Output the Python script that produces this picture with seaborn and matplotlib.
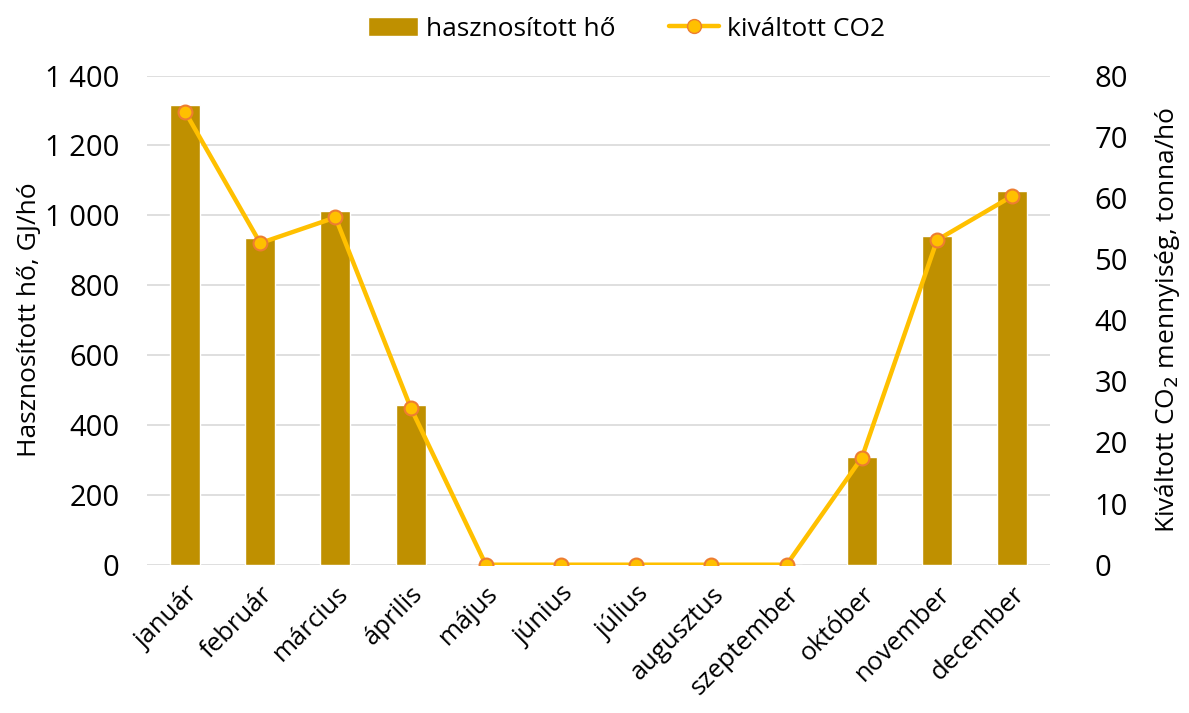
import pandas as pd
import numpy as np
import seaborn as sns
import matplotlib.pyplot as plt
from matplotlib.ticker import FuncFormatter
from matplotlib.lines import Line2D
from matplotlib.patches import Patch

# Data
months = ['január', 'február', 'március', 'április', 'május', 'június', 'július',
          'augusztus', 'szeptember', 'október', 'november', 'december']
heat = [1315, 935, 1013, 456, 0, 0, 0, 0, 0, 309, 940, 1069]      # GJ/hó
co2 = [74.1, 52.6, 56.8, 25.7, 0, 0, 0, 0, 0, 17.5, 53.1, 60.3]    # tonna/hó

df = pd.DataFrame({'honap': months, 'ho': heat, 'co2': co2})

sns.set_theme(style='white')
plt.rcParams['font.family'] = ['Open Sans', 'DejaVu Sans']
plt.rcParams['text.color'] = 'black'
plt.rcParams['axes.labelcolor'] = 'black'
plt.rcParams['xtick.color'] = 'black'
plt.rcParams['ytick.color'] = 'black'

bar_color = '#BF9000'
line_color = '#FFC000'
edge_color = '#ED7D31'
grid_color = '#D9D9D9'

fig = plt.figure(figsize=(11.89, 7.13), dpi=100)
ax = fig.add_axes([0.124, 0.208, 0.759, 0.686])

sns.barplot(data=df, x='honap', y='ho', color=bar_color, width=0.4,
            saturation=1, ax=ax)
ax.set_ylim(0, 1400)
ax.set_yticks(np.arange(0, 1401, 200))
ax.yaxis.set_major_formatter(FuncFormatter(lambda v, p: '{:,.0f}'.format(v).replace(',', ' ')))
ax.grid(axis='y', color=grid_color, linewidth=1.2)
ax.set_axisbelow(True)
ax.set_xlabel('')
ax.set_ylabel('Hasznosított hő, GJ/hó', fontsize=19, labelpad=2)
ax.tick_params(axis='y', labelsize=21, length=0, pad=20)
ax.tick_params(axis='x', labelsize=18.5, length=0, pad=12)
plt.setp(ax.get_xticklabels(), rotation=45, ha='right', rotation_mode='anchor')
for s in ax.spines.values():
    s.set_visible(False)

ax2 = ax.twinx()
sns.lineplot(data=df, x='honap', y='co2', color=line_color, linewidth=3.2,
             marker='o', markersize=10, markerfacecolor=line_color,
             markeredgecolor=edge_color, markeredgewidth=1.5, ax=ax2)
ax2.set_ylim(0, 80)
ax2.set_yticks(np.arange(0, 81, 10))
ax2.set_ylabel('Kiváltott CO$_2$ mennyiség, tonna/hó', fontsize=19, labelpad=18)
ax2.tick_params(axis='y', labelsize=21, length=0, pad=32)
ax2.set_xlabel('')
for s in ax2.spines.values():
    s.set_visible(False)
ax.set_xlim(-0.5, len(months) - 0.5)

handles = [Patch(facecolor=bar_color, label='hasznosított hő'),
           Line2D([0], [0], color=line_color, linewidth=3.2, marker='o', markersize=10,
                  markerfacecolor=line_color, markeredgecolor=edge_color,
                  label='kiváltott CO2')]
fig.legend(handles=handles, loc='upper center', bbox_to_anchor=(0.527, 1.01), ncol=2,
           frameon=False, fontsize=19, handlelength=1.9, columnspacing=2.0,
           handletextpad=0.3)

fig.savefig('out.png', dpi=100)
